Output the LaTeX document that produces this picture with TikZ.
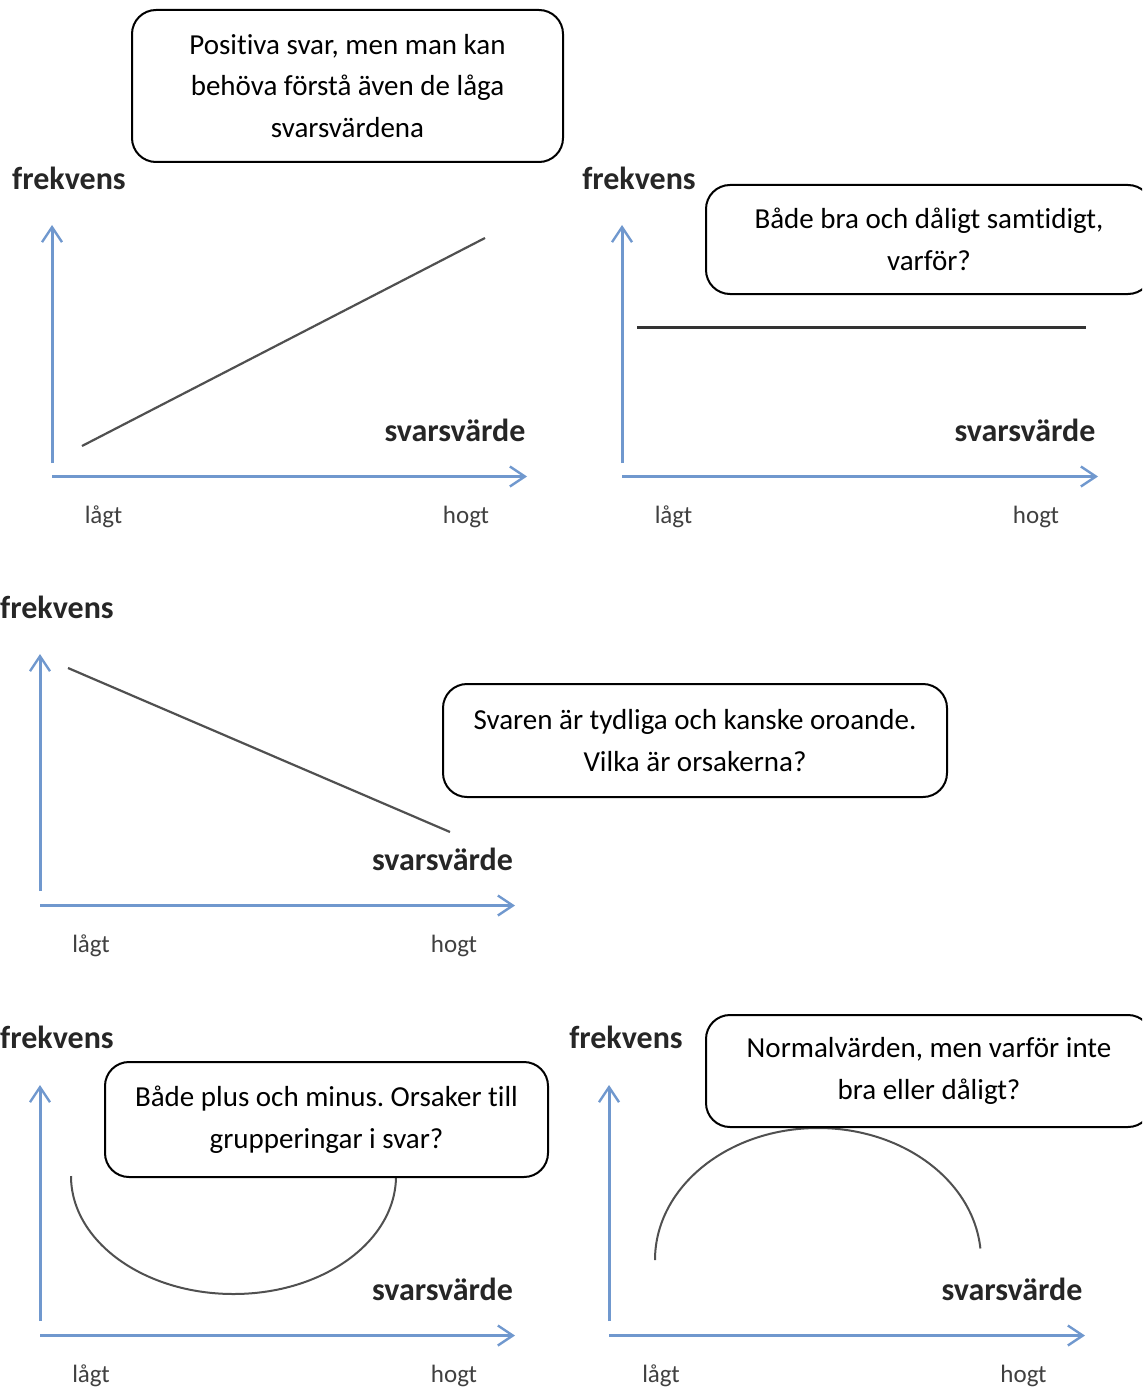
\documentclass[tikz,border=0pt]{standalone}
\usepackage{fontspec}
\setmainfont{Carlito}[Ligatures=NoCommon]
\frenchspacing
\usetikzlibrary{arrows.meta}
\definecolor{axblue}{RGB}{112,152,206}
\definecolor{curvegray}{RGB}{80,80,80}
\tikzset{
  axis/.style={draw=axblue, line width=3pt},
  axisarrow/.style={axis, -{Straight Barb[length=15pt,width=20pt,line width=2.4pt]}},
  dataline/.style={draw=curvegray, line width=2.2pt},
  axlabel/.style={inner sep=0pt, font=\fontsize{32}{36}\selectfont\bfseries, text=black!85},
  ticklabel/.style={inner sep=0pt, font=\fontsize{25}{28}\selectfont, text=black!75},
  callout/.style={draw=black, line width=2pt, rounded corners=24pt, fill=white, align=center,
    inner sep=0pt, font=\fontsize{29}{41.5}\selectfont}
}
\begin{document}
\begin{tikzpicture}[x=1pt,y=-1pt]
\useasboundingbox (0,0) rectangle (1142,1388);
\clip (0,0) rectangle (1142,1388);

% ---------- Panel 1 ----------
\coordinate (p1yb) at (52,463);
\coordinate (p1yt) at (52,225);
\coordinate (p1xl) at (52,476.5);
\coordinate (p1xr) at (527,476.5);
\draw[axisarrow] (p1yb) -- (p1yt);
\draw[axisarrow] (p1xl) -- (p1xr);
\coordinate (p1a) at (82,446);
\coordinate (p1b) at (485,238);
\draw[dataline] (p1a) -- (p1b);
\node[axlabel] (p1f) at (69,178) {frekvens};
\node[axlabel] (p1s) at (455,430) {svarsvärde};
\node[ticklabel] (p1lo) at (103.5,517) {lågt};
\node[ticklabel] (p1hi) at (466,517) {hogt};
\node[callout, minimum width=431pt, minimum height=152pt] (b1) at (347.5,86)
  {Positiva svar, men man kan\\behöva förstå även de låga\\svarsvärdena};

% ---------- Panel 2 ----------
\coordinate (p2yb) at (622,463);
\coordinate (p2yt) at (622,225);
\coordinate (p2xl) at (622,476.5);
\coordinate (p2xr) at (1098,476.5);
\draw[axisarrow] (p2yb) -- (p2yt);
\draw[axisarrow] (p2xl) -- (p2xr);
\coordinate (p2a) at (637,327);
\coordinate (p2b) at (1086,327);
\draw[dataline, line width=3pt, draw=black!80] (p2a) -- (p2b);
\node[axlabel] (p2f) at (639,178) {frekvens};
\node[axlabel] (p2s) at (1025,430) {svarsvärde};
\node[ticklabel] (p2lo) at (673.5,517) {lågt};
\node[ticklabel] (p2hi) at (1036,517) {hogt};
\node[callout, minimum width=446pt, minimum height=109pt] (b2) at (929,239.5)
  {Både bra och dåligt samtidigt,\\varför?};

% ---------- Panel 3 ----------
\coordinate (p3yb) at (40,891);
\coordinate (p3yt) at (40,654);
\coordinate (p3xl) at (40,905.5);
\coordinate (p3xr) at (515,905.5);
\draw[axisarrow] (p3yb) -- (p3yt);
\draw[axisarrow] (p3xl) -- (p3xr);
\coordinate (p3a) at (68,668);
\coordinate (p3b) at (450,832);
\draw[dataline] (p3a) -- (p3b);
\node[axlabel] (p3f) at (57,607) {frekvens};
\node[axlabel] (p3s) at (442.5,859) {svarsvärde};
\node[ticklabel] (p3lo) at (91,946) {lågt};
\node[ticklabel] (p3hi) at (454,946) {hogt};
\node[callout, minimum width=504pt, minimum height=113pt] (b3) at (695,740.5)
  {Svaren är tydliga och kanske oroande.\\Vilka är orsakerna?};

% ---------- Panel 4 ----------
\coordinate (p4yb) at (40,1321);
\coordinate (p4yt) at (40,1085);
\coordinate (p4xl) at (40,1335.5);
\coordinate (p4xr) at (515,1335.5);
\draw[axisarrow] (p4yb) -- (p4yt);
\draw[axisarrow] (p4xl) -- (p4xr);
\coordinate (p4a) at (71,1176);
\draw[dataline, line width=2pt] (p4a) arc[start angle=180, end angle=0, x radius=162.5, y radius=118];
\node[axlabel] (p4f) at (57,1037) {frekvens};
\node[axlabel] (p4s) at (442.5,1289) {svarsvärde};
\node[ticklabel] (p4lo) at (91,1376) {lågt};
\node[ticklabel] (p4hi) at (454,1376) {hogt};
\node[callout, minimum width=443pt, minimum height=115pt] (b4) at (326.5,1119.5)
  {Både plus och minus. Orsaker till\\grupperingar i svar?};

% ---------- Panel 5 ----------
\coordinate (p5yb) at (609,1321);
\coordinate (p5yt) at (609,1085);
\coordinate (p5xl) at (609,1335.5);
\coordinate (p5xr) at (1085,1335.5);
\draw[axisarrow] (p5yb) -- (p5yt);
\draw[axisarrow] (p5xl) -- (p5xr);
\coordinate (p5a) at (655,1260);
\draw[dataline, line width=2pt] (p5a) arc[start angle=180, end angle=355, x radius=163, y radius=132];
\node[axlabel] (p5f) at (626,1037) {frekvens};
\node[axlabel] (p5s) at (1012,1289) {svarsvärde};
\node[ticklabel] (p5lo) at (661,1376) {lågt};
\node[ticklabel] (p5hi) at (1023.5,1376) {hogt};
\node[callout, minimum width=446pt, minimum height=112pt] (b5) at (929,1071)
  {Normalvärden, men varför inte\\bra eller dåligt?};
\end{tikzpicture}
\end{document}
